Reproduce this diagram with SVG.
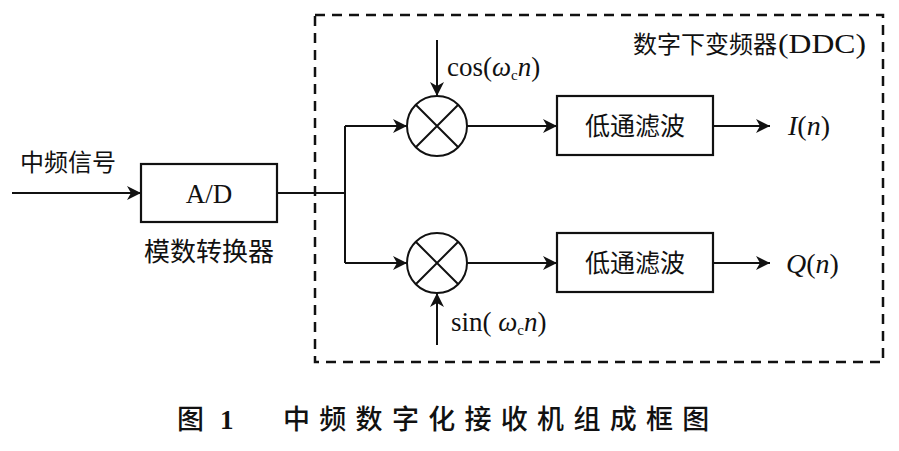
<svg xmlns="http://www.w3.org/2000/svg" width="899" height="451" viewBox="0 0 899 451">
<style>
.ln{fill:none;stroke:#111;stroke-width:2}
.box{fill:#fff;stroke:#111;stroke-width:2.2}
.dash{fill:none;stroke:#111;stroke-width:2.5;stroke-dasharray:10 7}
.t{font-family:"Liberation Serif","Noto Sans CJK SC",serif;fill:#111}
.c{font-family:"Noto Sans CJK SC","Liberation Sans",sans-serif;fill:#111}
</style>
<defs>
<marker id="ah" markerUnits="userSpaceOnUse" markerWidth="16" markerHeight="14" refX="14" refY="7" orient="auto">
<path d="M0,0 L14,7 L0,14 L4,7 Z" fill="#111"/>
</marker>
</defs>
<rect width="899" height="451" fill="#fff"/>
<g id="ddc">
<rect class="dash" x="315" y="15" width="568" height="347"/>
<text class="c" x="633" y="53" font-size="24">数字下变频器</text>
<text class="t" x="778" y="53" font-size="27" textLength="88" lengthAdjust="spacingAndGlyphs">(DDC)</text>
</g>
<g id="connectors">
<line class="ln" x1="12" y1="193" x2="141" y2="193" marker-end="url(#ah)"/>
<path class="ln" d="M277,193 H345 M345,126 V263"/>
<line class="ln" x1="345" y1="126" x2="407" y2="126" marker-end="url(#ah)"/>
<line class="ln" x1="345" y1="263" x2="407" y2="263" marker-end="url(#ah)"/>
<line class="ln" x1="437" y1="40" x2="437" y2="96" marker-end="url(#ah)"/>
<line class="ln" x1="437" y1="345" x2="437" y2="293" marker-end="url(#ah)"/>
<line class="ln" x1="467" y1="126" x2="557" y2="126" marker-end="url(#ah)"/>
<line class="ln" x1="467" y1="263" x2="557" y2="263" marker-end="url(#ah)"/>
<line class="ln" x1="713" y1="126" x2="770" y2="126" marker-end="url(#ah)"/>
<line class="ln" x1="713" y1="263" x2="770" y2="263" marker-end="url(#ah)"/>
</g>
<g id="input">
<text class="c" x="20" y="171" font-size="24">中频信号</text>
</g>
<g id="ad">
<rect class="box" x="141" y="164" width="136" height="58"/>
<text class="t" x="209" y="203" font-size="27" text-anchor="middle">A/D</text>
<text class="c" x="209" y="261" font-size="26" text-anchor="middle">模数转换器</text>
</g>
<g id="mixer1">
<circle class="ln" cx="437" cy="126" r="30"/>
<path class="ln" d="M416,105 L458,147 M458,105 L416,147"/>
<text class="t" x="447" y="76" font-size="27">cos(<tspan font-style="italic">ω</tspan><tspan font-size="15" dy="4">c</tspan><tspan font-style="italic" dy="-4">n</tspan>)</text>
</g>
<g id="mixer2">
<circle class="ln" cx="437" cy="263" r="30"/>
<path class="ln" d="M416,242 L458,284 M458,242 L416,284"/>
<text class="t" x="451" y="331" font-size="27">sin( <tspan font-style="italic">ω</tspan><tspan font-size="15" dy="4">c</tspan><tspan font-style="italic" dy="-4">n</tspan>)</text>
</g>
<g id="lpf1">
<rect class="box" x="557" y="96" width="156" height="59"/>
<text class="c" x="635" y="135" font-size="25" text-anchor="middle">低通滤波</text>
</g>
<g id="lpf2">
<rect class="box" x="557" y="233" width="156" height="59"/>
<text class="c" x="635" y="272" font-size="25" text-anchor="middle">低通滤波</text>
</g>
<g id="outI">
<text class="t" x="788" y="135" font-size="28"><tspan font-style="italic">I</tspan>(<tspan font-style="italic">n</tspan>)</text>
</g>
<g id="outQ">
<text class="t" x="786" y="273" font-size="28"><tspan font-style="italic">Q</tspan>(<tspan font-style="italic">n</tspan>)</text>
</g>
<g id="caption">
<text class="c" x="177" y="429" font-size="27" font-weight="500">图</text>
<text class="t" x="220" y="429" font-size="27" font-weight="bold">1</text>
<text class="c" x="283" y="429" font-size="27" font-weight="500" letter-spacing="9.3">中频数字化接收机组成框图</text>
</g>
</svg>
